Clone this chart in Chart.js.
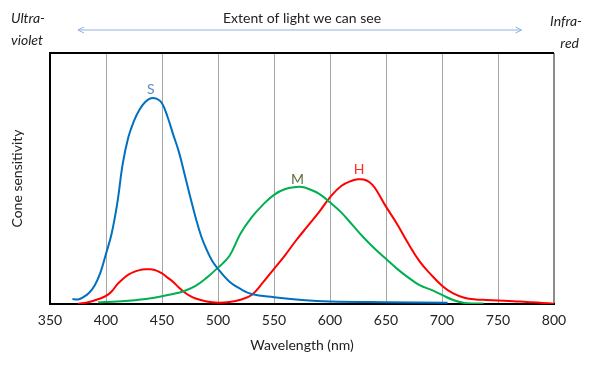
<!DOCTYPE html>
<html>
<head>
<meta charset="utf-8">
<script src="https://cdn.jsdelivr.net/npm/chart.js@4.4.1/dist/chart.umd.min.js"></script>
<style>
html, body { margin: 0; padding: 0; background: #fff; }
#wrap { width: 592px; height: 365px; }
</style>
</head>
<body>
<div id="wrap"><canvas id="coneChart" width="592" height="365"></canvas></div>
<script>
// Wavelength (nm) / sensitivity pairs
const sWave = [370, 375, 380, 385, 390, 395, 400, 405, 410, 415, 420, 425, 430, 435, 440, 445, 450, 455, 460, 465, 470, 475, 480, 485, 490, 495, 500, 510, 520, 530, 550, 575, 600, 650, 705];
const sVal  = [0.02, 0.018, 0.028, 0.045, 0.075, 0.125, 0.20, 0.28, 0.40, 0.56, 0.665, 0.73, 0.775, 0.805, 0.82, 0.818, 0.80, 0.745, 0.675, 0.607, 0.52, 0.43, 0.345, 0.27, 0.215, 0.17, 0.14, 0.09, 0.06, 0.04, 0.027, 0.016, 0.01, 0.007, 0.005];

const mWave = [393, 400, 420, 440, 460, 470, 480, 490, 500, 510, 520, 530, 540, 550, 560, 570, 575, 580, 590, 600, 610, 620, 630, 640, 650, 660, 670, 680, 690, 700, 710, 720, 730, 737];
const mVal  = [0.007, 0.008, 0.013, 0.023, 0.04, 0.052, 0.072, 0.105, 0.145, 0.19, 0.28, 0.345, 0.395, 0.435, 0.458, 0.466, 0.466, 0.46, 0.44, 0.405, 0.365, 0.315, 0.265, 0.22, 0.18, 0.14, 0.105, 0.075, 0.057, 0.036, 0.016, 0.004, 0.002, 0.002];

const hWave = [375, 385, 395, 400, 405, 410, 415, 420, 425, 430, 435, 440, 445, 450, 455, 460, 465, 470, 475, 480, 490, 500, 510, 520, 530, 540, 550, 560, 570, 580, 590, 600, 610, 620, 625, 630, 635, 640, 650, 660, 670, 680, 690, 700, 710, 720, 730, 740, 750, 760, 770, 780, 790, 800];
const hVal  = [0, 0.008, 0.022, 0.032, 0.05, 0.078, 0.10, 0.117, 0.128, 0.135, 0.138, 0.138, 0.133, 0.122, 0.105, 0.088, 0.066, 0.047, 0.032, 0.022, 0.01, 0.005, 0.008, 0.017, 0.036, 0.085, 0.14, 0.195, 0.255, 0.31, 0.365, 0.425, 0.47, 0.492, 0.497, 0.496, 0.486, 0.463, 0.388, 0.318, 0.24, 0.17, 0.118, 0.073, 0.042, 0.025, 0.018, 0.016, 0.014, 0.012, 0.01, 0.007, 0.004, 0.001];

const xTicks = [350, 400, 450, 500, 550, 600, 650, 700, 750, 800];

// curve names placed near each peak (wavelength, sensitivity)
const curveNames = [
    { text: 'S', wave: 440, val: 0.853, color: '#5b8cc8' },
    { text: 'M', wave: 571, val: 0.498, color: '#5f6b3a' },
    { text: 'H', wave: 626, val: 0.534, color: '#ff2a2a' }
];

const FONT = 'Lato, "Open Sans", sans-serif';

function toPoints(xs, ys) {
    return xs.map((x, i) => ({ x: x, y: ys[i] }));
}

function curve(label, xs, ys, color) {
    return {
        label: label,
        data: toPoints(xs, ys),
        borderColor: color,
        backgroundColor: color,
        borderWidth: 2,
        pointRadius: 0,
        fill: false,
        tension: 0.4
    };
}

// box around the plot (left/top/bottom black, right grey like the source)
const frame = {
    id: 'frame',
    beforeDatasetsDraw(chart) {
        const { ctx, chartArea: a } = chart;
        ctx.save();
        ctx.lineWidth = 2;
        ctx.strokeStyle = '#8c8c8c';
        ctx.beginPath();
        ctx.moveTo(a.right, a.top);
        ctx.lineTo(a.right, a.bottom);
        ctx.stroke();
        ctx.strokeStyle = '#000';
        ctx.beginPath();
        ctx.moveTo(a.right, a.top);
        ctx.lineTo(a.left, a.top);
        ctx.lineTo(a.left, a.bottom);
        ctx.lineTo(a.right + 1, a.bottom);
        ctx.stroke();
        ctx.restore();
    }
};

// texts above the plot, the double arrow, and S / M / H
const notes = {
    id: 'notes',
    afterDraw(chart) {
        const { ctx } = chart;
        const xs = chart.scales.x, ys = chart.scales.y;
        ctx.save();
        ctx.textBaseline = 'middle';

        ctx.fillStyle = '#222';
        ctx.font = '14px ' + FONT;
        ctx.textAlign = 'center';
        ctx.fillText('Extent of light we can see', 302, 18);

        ctx.font = 'italic 14px ' + FONT;
        ctx.textAlign = 'left';
        ctx.fillText('Ultra-', 11, 18);
        ctx.fillText('violet', 11, 40);
        ctx.textAlign = 'right';
        ctx.fillText('Infra-', 582, 21);
        ctx.fillText('red', 579, 43);

        // arrow
        const x1 = xs.getPixelForValue(375), x2 = xs.getPixelForValue(771), y = 30;
        ctx.strokeStyle = '#8db3e2';
        ctx.lineWidth = 1;
        ctx.beginPath();
        ctx.moveTo(x1, y); ctx.lineTo(x2, y);
        ctx.moveTo(x1 + 6, y - 3); ctx.lineTo(x1, y); ctx.lineTo(x1 + 6, y + 3);
        ctx.moveTo(x2 - 6, y - 3); ctx.lineTo(x2, y); ctx.lineTo(x2 - 6, y + 3);
        ctx.stroke();

        ctx.textAlign = 'center';
        ctx.font = '14px ' + FONT;
        curveNames.forEach(n => {
            ctx.fillStyle = n.color;
            ctx.fillText(n.text, xs.getPixelForValue(n.wave), ys.getPixelForValue(n.val));
        });
        ctx.restore();
    }
};

new Chart(document.getElementById('coneChart'), {
    type: 'line',
    data: {
        datasets: [
            curve('S', sWave, sVal, '#0070c0'),
            curve('M', mWave, mVal, '#00b050'),
            curve('H', hWave, hVal, '#ff0000')
        ]
    },
    options: {
        responsive: false,
        animation: false,
        layout: { padding: { top: 53, right: 38, left: 0, bottom: 0 } },
        plugins: {
            legend: { display: false },
            tooltip: { enabled: false }
        },
        scales: {
            x: {
                type: 'linear',
                min: 350,
                max: 800,
                afterBuildTicks: (axis) => { axis.ticks = xTicks.map(v => ({ value: v })); },
                afterFit: (axis) => { axis.height = 61; },
                grid: { color: '#a6a6a6', lineWidth: 1, drawTicks: false },
                border: { display: false },
                ticks: { padding: 8, color: '#222', font: { family: FONT, size: 14 } },
                title: {
                    display: true,
                    text: 'Wavelength (nm)',
                    color: '#222',
                    font: { family: FONT, size: 14 },
                    padding: { top: 0, bottom: 11 }
                }
            },
            y: {
                min: 0,
                max: 1,
                afterFit: (axis) => { axis.width = 50; },
                grid: { display: false },
                border: { display: false },
                ticks: { display: false },
                title: {
                    display: true,
                    text: 'Cone sensitivity',
                    color: '#222',
                    font: { family: FONT, size: 14 },
                    padding: { top: 9, bottom: 0 }
                }
            }
        }
    },
    plugins: [frame, notes]
});
</script>
</body>
</html>
